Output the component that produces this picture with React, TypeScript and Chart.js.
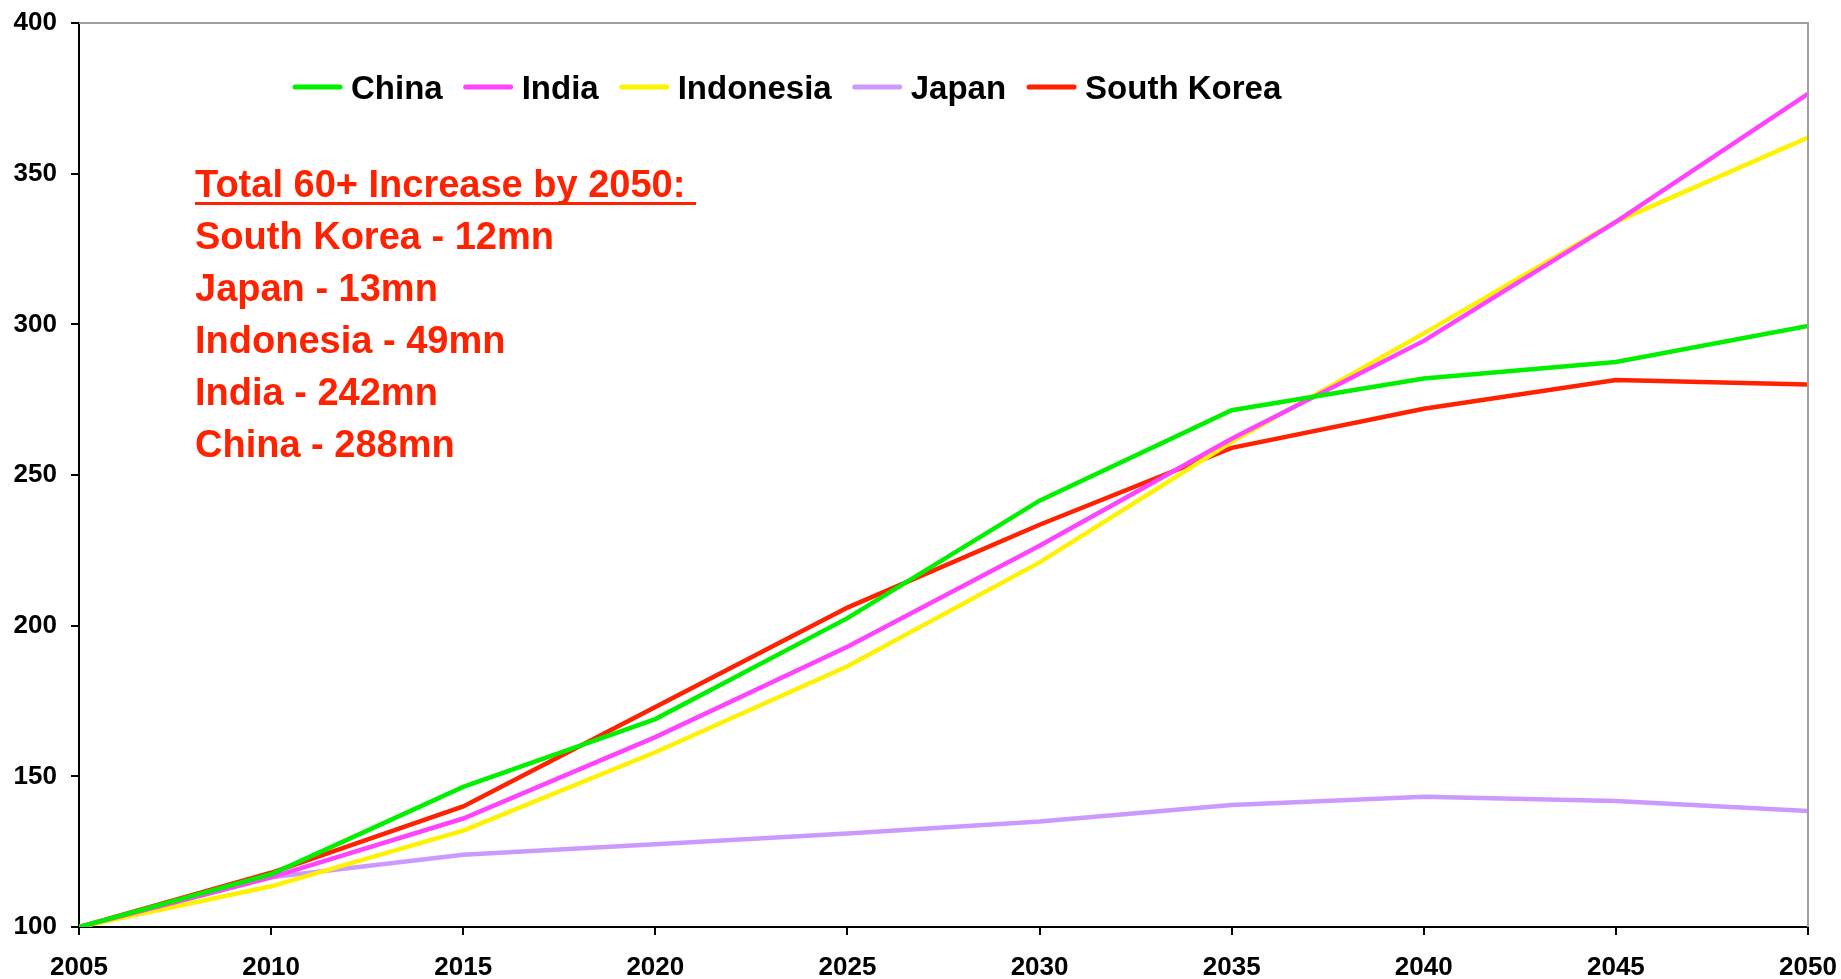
import React, { useEffect, useRef } from "react";
import { Chart, registerables } from "chart.js";

Chart.register(...registerables);

const years = [2005, 2010, 2015, 2020, 2025, 2030, 2035, 2040, 2045, 2050];
const china = [100, 117.5, 146.5, 169, 202.5, 241.5, 271.5, 282, 287.5, 299.5];
const india = [100, 116.5, 136, 163, 193, 226.5, 262, 294.5, 334, 376.5];
const indonesia = [100, 113.5, 132, 158, 186.5, 221, 261, 297, 334, 362];
const japan = [100, 116.5, 124, 127.5, 131, 135, 140.5, 143.2, 141.8, 138.5];
const southKorea = [100, 118, 140, 173, 206, 233.5, 259, 272, 281.5, 280];

const seriesNames = ["China", "India", "Indonesia", "Japan", "South Korea"];
const seriesValues = [china, india, indonesia, japan, southKorea];
const seriesColors = ["#00F000", "#FF44FF", "#FFF200", "#CC99FF", "#FF2200"];

const yTicks = [100, 150, 200, 250, 300, 350, 400];

const noteTitle = "Total 60+ Increase by 2050:";
const noteLines = [
  "South Korea - 12mn",
  "Japan - 13mn",
  "Indonesia - 49mn",
  "India - 242mn",
  "China - 288mn",
];

const FONT = "'Liberation Sans', Arial, sans-serif";

const overlayPlugin = {
  id: "overlay",
  afterDraw(chart: any) {
    const ctx = chart.ctx;
    const area = chart.chartArea;
    ctx.save();
    // gray top/right border
    ctx.strokeStyle = "#A0A0A0";
    ctx.lineWidth = 2;
    ctx.beginPath();
    ctx.moveTo(area.left, area.top);
    ctx.lineTo(area.right, area.top);
    ctx.lineTo(area.right, area.bottom);
    ctx.stroke();

    // legend
    ctx.font = `bold 33px ${FONT}`;
    ctx.textBaseline = "alphabetic";
    ctx.textAlign = "left";
    let x = 293;
    const ly = 87;
    chart.data.datasets.forEach((ds: any) => {
      ctx.strokeStyle = ds.borderColor;
      ctx.lineWidth = 5;
      ctx.lineCap = "round";
      ctx.beginPath();
      ctx.moveTo(x + 2, ly);
      ctx.lineTo(x + 47, ly);
      ctx.stroke();
      x += 58;
      ctx.fillStyle = "#000";
      ctx.fillText(ds.label, x, 99);
      x += ctx.measureText(ds.label).width + 21;
    });

    // note
    ctx.fillStyle = "#FF2200";
    ctx.font = `bold 38px ${FONT}`;
    const nx = 195;
    let ny = 197;
    ctx.fillText(noteTitle, nx, ny);
    const w = ctx.measureText(noteTitle + " ").width;
    ctx.fillRect(nx, ny + 5, w, 3);
    noteLines.forEach((t) => {
      ny += 52;
      ctx.fillText(t, nx, ny);
    });
    ctx.restore();
  },
};

export default function App() {
  const ref = useRef<HTMLCanvasElement>(null);
  useEffect(() => {
    document.body.style.margin = "0";
    const chart = new Chart(ref.current!, {
      type: "line",
      data: {
        datasets: seriesNames.map((name, i) => ({
          label: name,
          data: years.map((yr, j) => ({ x: yr, y: seriesValues[i][j] })),
          borderColor: seriesColors[i],
          backgroundColor: seriesColors[i],
          borderWidth: 4.5,
          pointRadius: 0,
          tension: 0,
        })),
      },
      options: {
        animation: false,
        responsive: false,
        layout: { padding: { top: 23, right: 33, left: 0, bottom: 0 } },
        plugins: { legend: { display: false }, tooltip: { enabled: false } },
        scales: {
          x: {
            type: "linear",
            min: 2005,
            max: 2050,
            afterFit: (s: any) => {
              s.height = 52;
              s.paddingLeft = 0;
              s.paddingRight = 0;
            },
            ticks: {
              stepSize: 5,
              color: "#000",
              font: { family: FONT, size: 26, weight: "bold" },
              padding: 17,
              maxRotation: 0,
              callback: (v: any) => String(v),
            },
            grid: { drawOnChartArea: false, color: "#000", tickLength: 8, lineWidth: 2 },
            border: { color: "#000", width: 2 },
          },
          y: {
            min: 100,
            max: 400,
            afterFit: (s: any) => {
              s.width = 79;
              s.paddingTop = 0;
              s.paddingBottom = 0;
            },
            afterBuildTicks: (s: any) => {
              s.ticks = yTicks.map((v) => ({ value: v }));
            },
            ticks: {
              color: "#000",
              font: { family: FONT, size: 26, weight: "bold" },
              padding: 14,
            },
            grid: { drawOnChartArea: false, color: "#000", tickLength: 8, lineWidth: 2 },
            border: { color: "#000", width: 2 },
          },
        },
      },
      plugins: [overlayPlugin],
    });
    return () => chart.destroy();
  }, []);
  return (
    <div style={{ position: "absolute", left: 0, top: 0, width: 1841, height: 979, background: "#fff" }}>
      <canvas ref={ref} width={1841} height={979} />
    </div>
  );
}
